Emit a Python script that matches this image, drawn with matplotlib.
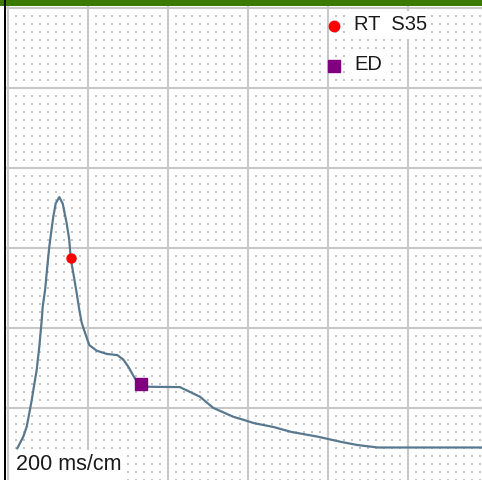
import numpy as np
import matplotlib
matplotlib.use("Agg")
import matplotlib.pyplot as plt
from matplotlib.patches import Rectangle

# trace: time in ms, amplitude in mm (1 small box = 20 ms x 1 mm)
t_ms = [24.5, 39.5, 48, 54.5, 60.5, 66, 73, 79.5, 85.5, 88, 94, 99.5, 104.5, 110.5,
        114.5, 120.5, 129.5, 138, 148, 154.5, 158, 166, 173, 179.5, 185.5, 194, 204.5,
        223, 248, 274.5, 289.5, 302, 316, 327, 334, 431, 481, 514.5, 564, 584, 616,
        666, 709, 776, 834, 876, 926, 1184]
amp_mm = [4.9, 6.35, 7.6, 9.3, 10.9, 12.6, 14.7, 17.6, 20.9, 22.6, 24.7, 27.6, 30.1,
          32.4, 33.85, 35.5, 36.3, 35.5, 33.0, 30.9, 28.65, 26.35, 24.3, 22.2, 20.6,
          19.3, 17.8, 17.1, 16.7, 16.55, 16.0, 15.1, 13.85, 13.0, 12.6, 12.55, 11.35,
          9.95, 8.85, 8.55, 8.05, 7.55, 6.95, 6.35, 5.7, 5.3, 5.0, 5.0]

rt_point = (158, 28.65)
ed_point = (334, 12.9)
legend_labels = ["RT  S35", "ED"]
scale_label = "200 ms/cm"

W, H = 482, 480
fig = plt.figure(figsize=(W / 100, H / 100), dpi=100)
plt.rcParams['font.family'] = ['Liberation Sans', 'DejaVu Sans']

# axes area in pixels: x 6..482, y 6..480
ax = fig.add_axes([6 / W, 0, 476 / W, 474 / H])
ax.set_xlim((6 - 7.5) * 2.5, (482 - 7.5) * 2.5)
ax.set_ylim((487.5 - 480) / 8, (487.5 - 6) / 8)
ax.axis("off")

# grid: major every 200 ms / 10 mm, dots every 20 ms / 1 mm
for xm in np.arange(0, 1201, 200):
    ax.axvline(xm, color="#c8c8c8", lw=1.5, zorder=1)
for ym in np.arange(0, 61, 10):
    ax.axhline(ym, color="#c8c8c8", lw=1.5, zorder=1)
gx, gy = np.meshgrid(np.arange(0, 1201, 20), np.arange(0, 61, 1))
keep = (gx % 200 != 0) & (gy % 10 != 0)
ax.scatter(gx[keep], gy[keep], s=1.2, marker="s", color="#c4c4c4", lw=0, zorder=1)

ax.plot(t_ms, amp_mm, color="#587890", lw=1.6, zorder=3)
ax.plot(*rt_point, marker="o", ms=6.5, color="#ff0000", mec="#ff0000", zorder=4)
ax.plot(*ed_point, marker="s", ms=8.5, color="#800080", mec="#800080", zorder=4)

# legend drawn by hand in pixel positions
def px(x, y):
    return ((x - 6) / 476, (480 - y) / 474)

ax.plot(*px(333.5, 25.5), marker="o", ms=7.5, color="#ff0000", transform=ax.transAxes, zorder=6)
ax.plot(*px(333.5, 65.5), marker="s", ms=8, color="#800080", transform=ax.transAxes, zorder=6)
box = dict(facecolor="white", edgecolor="none", pad=3)
ax.text(*px(354, 25), legend_labels[0], fontsize=14.5, color="#1a1a1a", va="center",
        ha="left", transform=ax.transAxes, bbox=box, zorder=5)
ax.text(*px(354, 65), legend_labels[1], fontsize=14.5, color="#1a1a1a", va="center",
        ha="left", transform=ax.transAxes, bbox=box, zorder=5)
ax.text(*px(16, 465), scale_label, fontsize=15.5, color="#1a1a1a", va="center",
        ha="left", transform=ax.transAxes, bbox=box, zorder=5)

# frame bits of the viewer: green bar on top, black line on the left
fig.patches.append(Rectangle((0, (H - 6) / H), 1, 6 / H, transform=fig.transFigure,
                             facecolor="#3a7a00", edgecolor="none"))
fig.patches.append(Rectangle((4 / W, 0), 2 / W, 1, transform=fig.transFigure,
                             facecolor="black", edgecolor="none"))

fig.savefig("out.png", dpi=100)
